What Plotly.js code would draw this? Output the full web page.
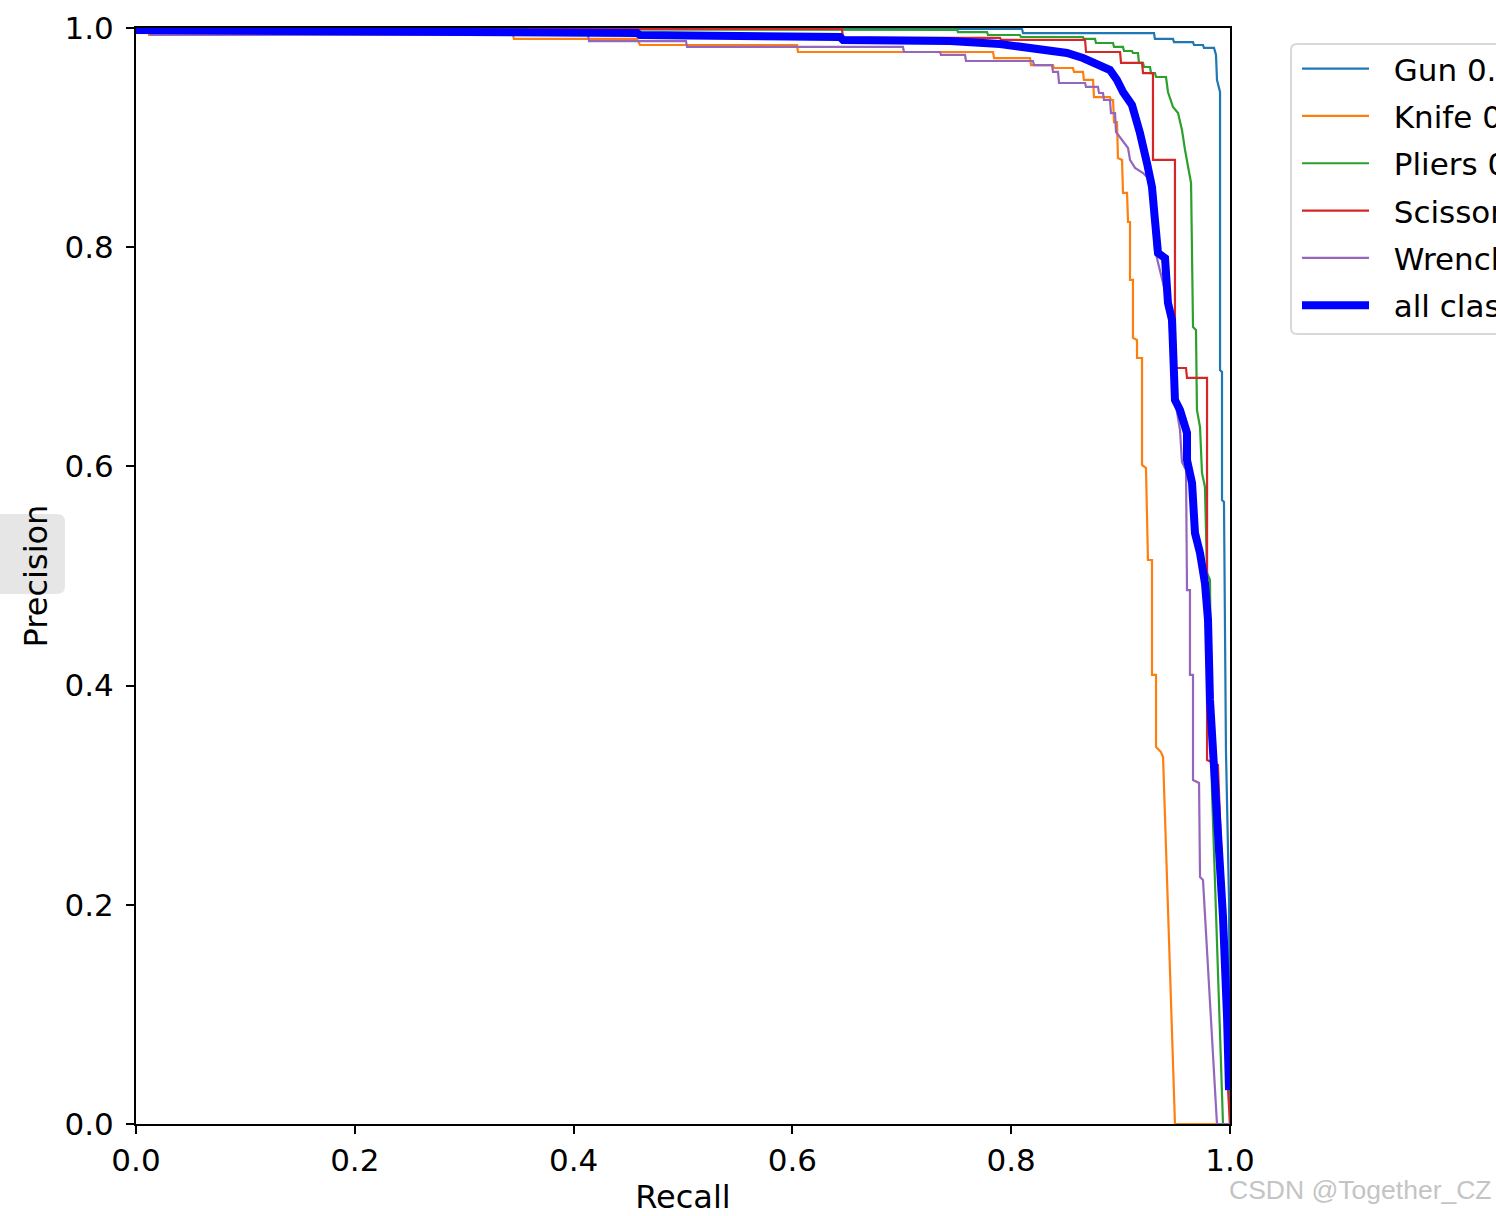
<!DOCTYPE html>
<html>
<head>
<meta charset="utf-8">
<script src="https://cdn.plot.ly/plotly-3.0.1.min.js"></script>
<style>html,body{margin:0;padding:0;background:#fff;} #chart{width:1496px;height:1216px;}</style>
</head>
<body>
<div id="chart"></div>
<script>
// ---- data (recall, precision) ----
const classNames = ["Gun 0.995", "Knife 0.937", "Pliers 0.975", "Scissors 0.968", "Wrench 0.956", "all classes 0.966 mAP@0.5"];

const gunRecall = [0, 0.8099, 0.8108, 0.9305, 0.9314, 0.9479, 0.9488, 0.9662, 0.9671, 0.9753, 0.9762, 0.9854, 0.9872, 0.9881, 0.9909, 0.9909, 0.9927, 0.9927, 0.9945, 0.9963, 0.9991, 1.0];
const gunPrecision = [0.9991, 0.9991, 0.9954, 0.9954, 0.9900, 0.9900, 0.9872, 0.9872, 0.9845, 0.9845, 0.9818, 0.9818, 0.9754, 0.9526, 0.9416, 0.6880, 0.6861, 0.5693, 0.5675, 0.3412, 0.2044, 0.0];

const knifeRecall = [0, 0.011, 0.0119, 0.3446, 0.3455, 0.4580, 0.4607, 0.6042, 0.6051, 0.7834, 0.7843, 0.8172, 0.8181, 0.8382, 0.8391, 0.8565, 0.8574, 0.8656, 0.8665, 0.8748, 0.8757, 0.8903, 0.8912, 0.8931, 0.8940, 0.8967, 0.8976, 0.9013, 0.9022, 0.9059, 0.9068, 0.9086, 0.9086, 0.9113, 0.9113, 0.9150, 0.9150, 0.9196, 0.9196, 0.9232, 0.9250, 0.9287, 0.9287, 0.9324, 0.9324, 0.9369, 0.9388, 0.9497, 1.0];
const knifePrecision = [0.9991, 0.9991, 0.9936, 0.9936, 0.9900, 0.9900, 0.9845, 0.9845, 0.9781, 0.9781, 0.9726, 0.9726, 0.9662, 0.9662, 0.9635, 0.9635, 0.9599, 0.9599, 0.9526, 0.9526, 0.9370, 0.9370, 0.9343, 0.9343, 0.9142, 0.9142, 0.8814, 0.8796, 0.8495, 0.8495, 0.8230, 0.8230, 0.7701, 0.7701, 0.7172, 0.7153, 0.6989, 0.6989, 0.6013, 0.5985, 0.5146, 0.5146, 0.4097, 0.4097, 0.3440, 0.3394, 0.3349, 0, 0];

const pliersRecall = [0, 0.7505, 0.7514, 0.7779, 0.7788, 0.8080, 0.8089, 0.8656, 0.8665, 0.8766, 0.8775, 0.8931, 0.8940, 0.9022, 0.9031, 0.9104, 0.9113, 0.9159, 0.9168, 0.9205, 0.9214, 0.9269, 0.9278, 0.9314, 0.9324, 0.9415, 0.9433, 0.9479, 0.9525, 0.9561, 0.9589, 0.9616, 0.9644, 0.9662, 0.9689, 0.9698, 0.9726, 0.9744, 0.9771, 0.9790, 0.9817, 0.9835, 0.9936, 1.0];
const pliersPrecision = [0.9991, 0.9982, 0.9963, 0.9963, 0.9936, 0.9936, 0.9918, 0.9918, 0.9900, 0.9900, 0.9863, 0.9863, 0.9827, 0.9827, 0.9790, 0.9790, 0.9772, 0.9772, 0.9681, 0.9681, 0.9644, 0.9644, 0.9589, 0.9589, 0.9553, 0.9553, 0.9416, 0.9279, 0.9224, 0.9069, 0.8887, 0.8750, 0.8586, 0.7272, 0.7245, 0.6515, 0.6359, 0.5940, 0.5812, 0.5027, 0.4964, 0.3047, 0, 0];

const scissorsRecall = [0, 0.6453, 0.6463, 0.7898, 0.7907, 0.8675, 0.8684, 0.8995, 0.9004, 0.9196, 0.9205, 0.9296, 0.9296, 0.9497, 0.9497, 0.9598, 0.9607, 0.9790, 0.9790, 0.9890, 0.9936, 0.9982, 1.0];
const scissorsPrecision = [0.9991, 0.9991, 0.9909, 0.9909, 0.9891, 0.9891, 0.9781, 0.9781, 0.9681, 0.9681, 0.9589, 0.9589, 0.8796, 0.8796, 0.6898, 0.6898, 0.6807, 0.6807, 0.3321, 0.3276, 0.2044, 0.0310, 0];

const wrenchRecall = [0, 0.0128, 0.0137, 0.4132, 0.4141, 0.5027, 0.5037, 0.7011, 0.7020, 0.7349, 0.7358, 0.7578, 0.7587, 0.8199, 0.8208, 0.8373, 0.8382, 0.8428, 0.8437, 0.8675, 0.8684, 0.8793, 0.8803, 0.8839, 0.8848, 0.8903, 0.8912, 0.8949, 0.8958, 0.9013, 0.9068, 0.9086, 0.9132, 0.9205, 0.9269, 0.9314, 0.9433, 0.9497, 0.9543, 0.9561, 0.9598, 0.9607, 0.9634, 0.9634, 0.9662, 0.9662, 0.9717, 0.9726, 0.9753, 0.9881, 1.0];
const wrenchPrecision = [0.9991, 0.9991, 0.9936, 0.9936, 0.9881, 0.9881, 0.9827, 0.9827, 0.9781, 0.9781, 0.9754, 0.9754, 0.9699, 0.9699, 0.9662, 0.9662, 0.9599, 0.9599, 0.9498, 0.9498, 0.9462, 0.9462, 0.9407, 0.9407, 0.9343, 0.9343, 0.9224, 0.9224, 0.9051, 0.8978, 0.8905, 0.8796, 0.8723, 0.8677, 0.8613, 0.7974, 0.7491, 0.6606, 0.6332, 0.6040, 0.5967, 0.4872, 0.4872, 0.4097, 0.4097, 0.3139, 0.3111, 0.2254, 0.2226, 0, 0];

const allRecall = [0, 0.2596, 0.4132, 0.4580, 0.4607, 0.6042, 0.6069, 0.6435, 0.6463, 0.7441, 0.7898, 0.8199, 0.8510, 0.8656, 0.8812, 0.8903, 0.8967, 0.9022, 0.9104, 0.9150, 0.9177, 0.9241, 0.9287, 0.9314, 0.9342, 0.9406, 0.9433, 0.9470, 0.9497, 0.9543, 0.9607, 0.9607, 0.9653, 0.9680, 0.9726, 0.9771, 0.9799, 0.9817, 0.9845, 0.9890, 0.9936, 0.9973, 0.9991];
const allPrecision = [0.9982, 0.9973, 0.9954, 0.9954, 0.9936, 0.9936, 0.9918, 0.9918, 0.9891, 0.9881, 0.9854, 0.9818, 0.9772, 0.9726, 0.9662, 0.9617, 0.9526, 0.9416, 0.9297, 0.9142, 0.9042, 0.8768, 0.8549, 0.8248, 0.7947, 0.7901, 0.7491, 0.7336, 0.6606, 0.6515, 0.6305, 0.6058, 0.5849, 0.5392, 0.5210, 0.4936, 0.4599, 0.3869, 0.3412, 0.2774, 0.1889, 0.0976, 0.0310];

const tickValues = [0, 0.2, 0.4, 0.6, 0.8, 1.0];
const tickLabels = ["0.0", "0.2", "0.4", "0.6", "0.8", "1.0"];

// ---- styling ----
const colors = ["#1f77b4", "#ff7f0e", "#2ca02c", "#d62728", "#9467bd", "#0000ff"];
const widths = [2.2, 2.2, 2.2, 2.2, 2.2, 8];
const xs = [gunRecall, knifeRecall, pliersRecall, scissorsRecall, wrenchRecall, allRecall];
const ys = [gunPrecision, knifePrecision, pliersPrecision, scissorsPrecision, wrenchPrecision, allPrecision];

const FONT = "DejaVu Sans, Verdana, sans-serif";
const TICK_SIZE = 31, TITLE_SIZE = 32, LEGEND_SIZE = 31;

const traces = classNames.map((name, i) => ({
  type: "scatter",
  mode: "lines",
  x: xs[i],
  y: ys[i],
  name: "\u00a0\u00a0" + name,
  legendgroup: "g" + i,
  line: {color: colors[i], width: widths[i]},
  hoverinfo: "skip"
}));

const L = 136, R = 1230, T = 28, B = 1124;
const pw = R - L, ph = B - T;
const px = v => (v - L) / pw;
const py = v => (B - v) / ph;

// rounded legend frame (matplotlib fancybox), in paper coordinates
function roundRect(x0, y0, x1, y1, r) {
  const X = v => px(v), Y = v => py(v);
  return `M ${X(x0 + r)},${Y(y0)} L ${X(x1 - r)},${Y(y0)} Q ${X(x1)},${Y(y0)} ${X(x1)},${Y(y0 + r)} ` +
         `L ${X(x1)},${Y(y1 - r)} Q ${X(x1)},${Y(y1)} ${X(x1 - r)},${Y(y1)} L ${X(x0 + r)},${Y(y1)} ` +
         `Q ${X(x0)},${Y(y1)} ${X(x0)},${Y(y1 - r)} L ${X(x0)},${Y(y0 + r)} Q ${X(x0)},${Y(y0)} ${X(x0 + r)},${Y(y0)} Z`;
}

const layout = {
  width: 1496,
  height: 1216,
  margin: {l: L, r: 1496 - R, t: T, b: 1216 - B, pad: 0, autoexpand: false},
  paper_bgcolor: "#ffffff",
  plot_bgcolor: "#ffffff",
  font: {family: FONT, size: TICK_SIZE, color: "#000000"},
  showlegend: true,
  legend: {
    x: px(1297), y: py(42), xanchor: "left", yanchor: "top",
    bgcolor: "rgba(0,0,0,0)", borderwidth: 0,
    font: {family: FONT, size: LEGEND_SIZE, color: "#000000"},
    traceorder: "grouped", tracegroupgap: 4, itemwidth: 67
  },
  xaxis: {
    range: [0, 1], tickvals: tickValues, ticktext: tickLabels,
    showgrid: false, zeroline: false,
    showline: true, linecolor: "#000000", linewidth: 2, mirror: true,
    ticks: "outside", ticklen: 8, tickwidth: 2, tickcolor: "#000000",
    tickfont: {family: FONT, size: TICK_SIZE, color: "#000000"},
    title: {text: "Recall", font: {family: FONT, size: TITLE_SIZE, color: "#000000"}, standoff: 17},
    automargin: false, fixedrange: true
  },
  yaxis: {
    range: [0, 1], tickvals: tickValues, ticktext: tickLabels,
    showgrid: false, zeroline: false,
    showline: true, linecolor: "#000000", linewidth: 2, mirror: true,
    ticks: "outside", ticklen: 8, tickwidth: 2, tickcolor: "#000000",
    ticklabelstandoff: 6,
    tickfont: {family: FONT, size: TICK_SIZE, color: "#000000"},
    title: {text: "Precision", font: {family: FONT, size: TITLE_SIZE, color: "#000000"}, standoff: 7},
    automargin: false, fixedrange: true
  },
  shapes: [{
    type: "path", xref: "paper", yref: "paper", layer: "below",
    path: roundRect(-20, 514, 65, 594, 8),
    fillcolor: "#e6e6e6", line: {width: 0}
  }, {
    type: "path", xref: "paper", yref: "paper", layer: "below",
    path: roundRect(1291, 44, 1540, 334, 6),
    fillcolor: "#ffffff", line: {color: "#d9d9d9", width: 2}
  }],
  annotations: [{
    xref: "paper", yref: "paper", x: px(1227), y: py(1190),
    xanchor: "left", yanchor: "middle", showarrow: false,
    text: "CSDN @Together_CZ",
    font: {family: "Liberation Sans, Arial, sans-serif", size: 26.5, color: "#c4c4c4"}
  }]
};

Plotly.newPlot("chart", traces, layout, {staticPlot: true, displayModeBar: false});
</script>
</body>
</html>
